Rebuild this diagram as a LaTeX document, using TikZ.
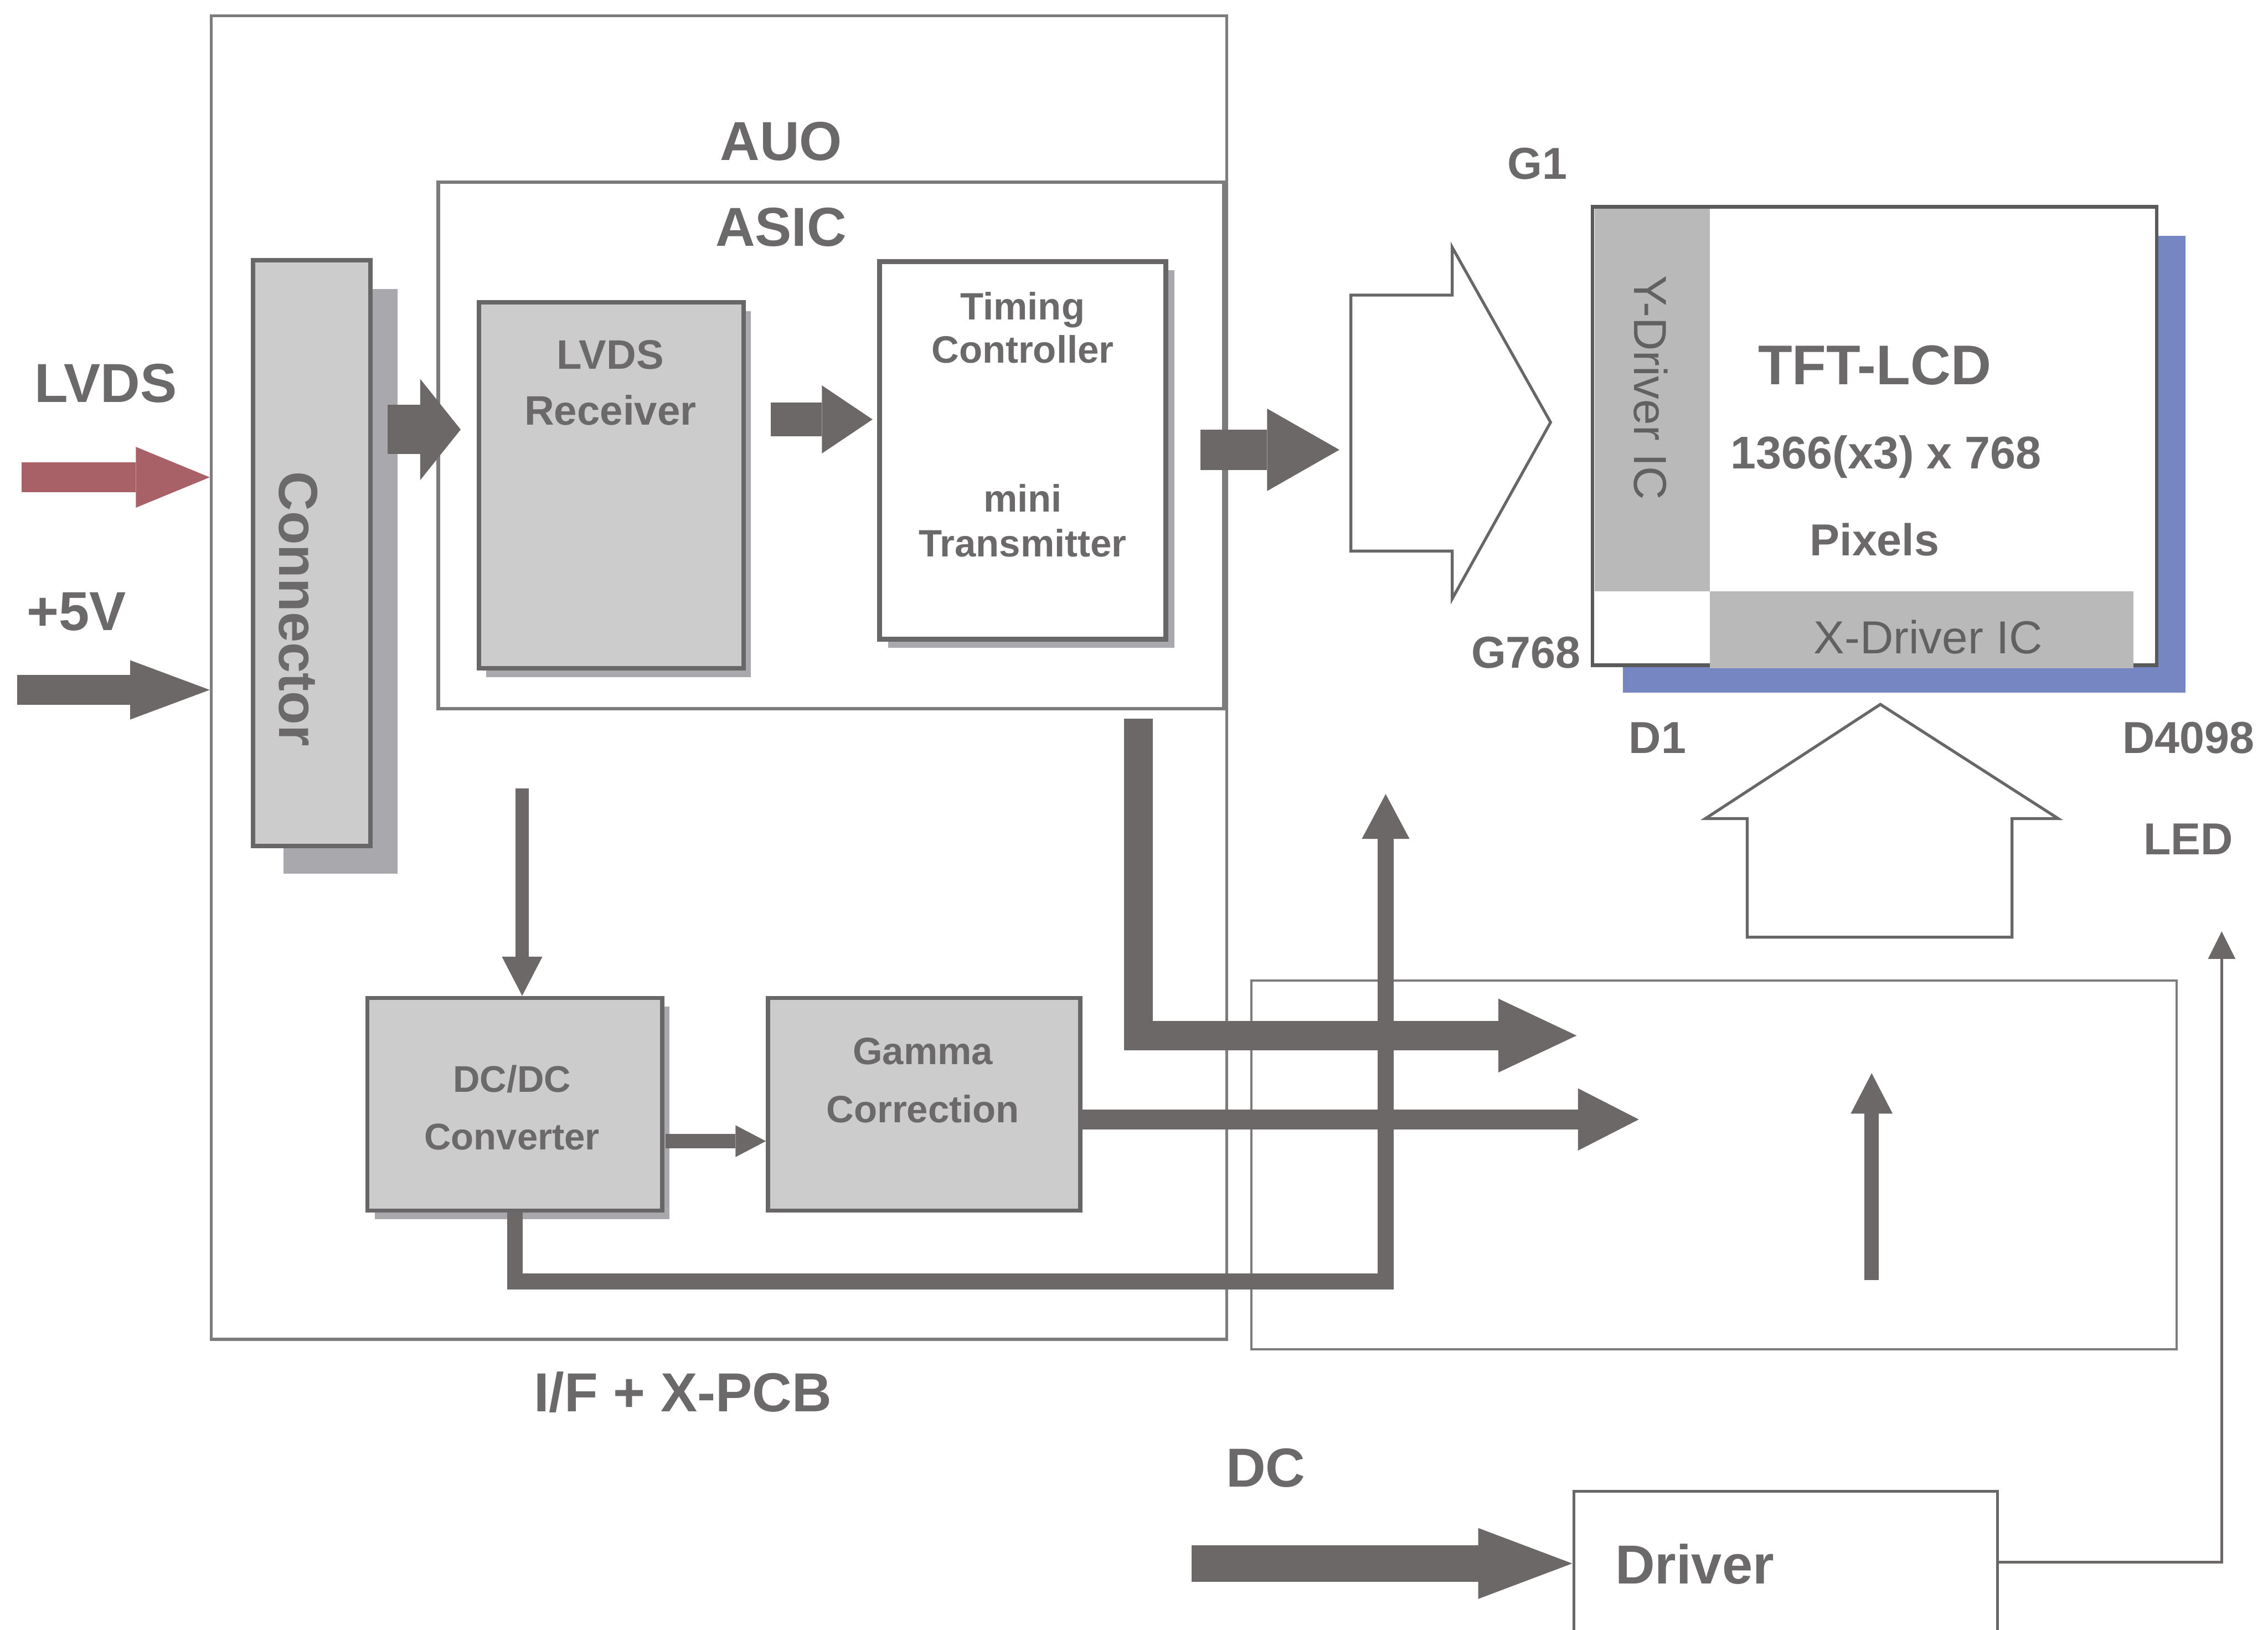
\documentclass[tikz,border=0pt]{standalone}
\usepackage{fontspec}
\setmainfont{Liberation Sans}
\usetikzlibrary{arrows.meta,fit}
\definecolor{txt}{RGB}{108,105,106}
\definecolor{arr}{RGB}{108,104,104}
\definecolor{frm}{RGB}{125,123,124}
\definecolor{bl}{RGB}{105,102,103}
\definecolor{pbl}{RGB}{90,90,90}
\definecolor{gfill}{RGB}{204,204,204}
\definecolor{shd}{RGB}{169,169,173}
\definecolor{drv}{RGB}{185,185,185}
\definecolor{lcdblue}{RGB}{118,134,194}
\definecolor{lvdsred}{RGB}{168,97,103}
\begin{document}
\begin{tikzpicture}[x=0.01cm,y=-0.01cm,
  frame/.style={draw=frm, line width=0.02cm, inner sep=0pt},
  gbox/.style={draw=bl, fill=gfill, line width=0.03cm, inner sep=0pt},
  wbox/.style={draw=bl, fill=white, line width=0.03cm, inner sep=0pt},
  lbl/.style={text=txt, inner sep=0pt, anchor=base},
  fA/.style={lbl, font=\fontsize{10.8pt}{13pt}\selectfont\bfseries},
  fT/.style={lbl, font=\fontsize{11pt}{13pt}\selectfont\bfseries},
  fB/.style={lbl, font=\fontsize{8.8pt}{10pt}\selectfont\bfseries},
  fN/.style={lbl, font=\fontsize{9pt}{10pt}\selectfont\bfseries},
  fC/.style={lbl, font=\fontsize{8.1pt}{10pt}\selectfont\bfseries},
  fD/.style={lbl, font=\fontsize{7.5pt}{9pt}\selectfont\bfseries},
  fE/.style={lbl, font=\fontsize{7.3pt}{9pt}\selectfont\bfseries},
  fR/.style={lbl, text=black!62, font=\fontsize{9.1pt}{11pt}\selectfont},
  thk/.style n args={3}{draw=arr, line width=#1, -{Triangle[length=#2, width=#3, line width=0pt]}},
  hollow/.style={draw=bl, fill=white, line width=0.02cm, line join=miter},
]
\clip (0,0) rectangle (1568,1127);
\fill[white] (0,0) rectangle (1568,1127);

% frames
\node[frame, fit={(146,11) (848,926)}] (auo) {};
\node[frame, line width=0.025cm, fit={(303,126) (846,490)}] (asic) {};
\node[frame, line width=0.015cm, fit={(865,678) (1505,933)}] (pcb) {};

% connector
\fill[shd] (196,200) rectangle (275,604);
\node[gbox, fit={(175,180) (256,585)}] (conn) {};
\node[fA, rotate=-90] (tconn) at (193,421) {Connector};

% LVDS receiver
\fill[shd] (336,215) rectangle (519,468);
\node[gbox, fit={(331,209) (514,462)}] (rec) {};
\node[fC] (trec1) at (422,255) {LVDS};
\node[fC] (trec2) at (422,294) {Receiver};

% timing controller
\fill[shd] (614,187) rectangle (812,448);
\node[wbox, line width=0.035cm, fit={(608,181) (806,442)}] (tcon) {};
\node[fD] (ttc1) at (707,221) {Timing};
\node[fD] (ttc2) at (707,251) {Controller};
\node[fD] (ttc3) at (707,354) {mini};
\node[fD] (ttc4) at (707,385) {Transmitter};

% DC/DC and gamma
\fill[shd] (259,696) rectangle (463,843);
\node[gbox, fit={(254,690) (458,837)}] (dcdc) {};
\node[fE] (tdc1) at (354,755) {DC/DC};
\node[fE] (tdc2) at (354,795) {Converter};
\node[gbox, fit={(531,690) (747,837)}] (gamma) {};
\node[fD] (tga1) at (638,736) {Gamma};
\node[fD] (tga2) at (638,776) {Correction};

% panel
\fill[lcdblue] (1122,163) rectangle (1511,479);
\node[draw=pbl, fill=white, line width=0.025cm, inner sep=0pt, fit={(1101,143) (1491,460)}] (panel) {};
\node[fill=drv, inner sep=0pt, fit={(1102.5,144.5) (1182,409)}] (ydrv) {};
\node[fill=drv, inner sep=0pt, fit={(1182,409) (1475,462)}] (xdrv) {};
\node[fR, rotate=-90] (tydrv) at (1130,268) {Y-Driver IC};
\node[fR] (txdrv) at (1333,452) {X-Driver IC};
\node[fT] (ttft) at (1296,266) {TFT-LCD};
\node[fN] (tres) at (1304,324) {1366(x3) x 768};
\node[fB] (tpix) at (1296,384) {Pixels};

% hollow arrows
\draw[hollow] (934,204) -- (1004,204) -- (1004,171) -- (1072,292) -- (1004,414) -- (1004,381) -- (934,381) -- cycle;
\draw[hollow] (1208,648) -- (1208,566) -- (1179,566) -- (1300,487) -- (1423,566) -- (1391,566) -- (1391,648) -- cycle;

% driver
\node[draw=bl, fill=white, line width=0.02cm, inner sep=0pt, fit={(1088,1031) (1381,1140)}] (driver) {};
\node[fA, anchor=base west] (tdrv) at (1116,1095) {Driver};

% connectors
\coordinate (lvdsin) at (15,330);
\draw[thk={0.21cm}{0.51cm}{0.42cm}, draw=lvdsred] (lvdsin) -- (lvdsin -| auo.west);
\coordinate (v5in) at (12,477);
\draw[thk={0.21cm}{0.55cm}{0.41cm}] (v5in) -- (v5in -| auo.west);
\coordinate (c1) at (268,297);
\draw[thk={0.34cm}{0.28cm}{0.70cm}, shorten >=0.11cm] (c1) -- (c1 -| rec.west);
\coordinate (c2) at (533,290);
\draw[thk={0.23cm}{0.35cm}{0.47cm}, shorten >=0.03cm] (c2) -- (c2 -| tcon.west);
\coordinate (c3) at (830,311);
\coordinate (c3e) at (926,311);
\draw[thk={0.28cm}{0.50cm}{0.57cm}] (c3) -- (c3e);
\coordinate (d1) at (787,497);
\coordinate (d1e) at (1090,716);
\draw[thk={0.20cm}{0.54cm}{0.51cm}] (d1) |- (d1e);
\coordinate (g1) at (747,774);
\coordinate (g1e) at (1133,774);
\draw[thk={0.14cm}{0.42cm}{0.43cm}] (g1) -- (g1e);
\coordinate (p1) at (958,886);
\coordinate (p2) at (958,549);
\draw[thk={0.11cm}{0.31cm}{0.33cm}] (dcdc.south) |- (p1) -- (p2);
\coordinate (e1) at (361,545);
\draw[thk={0.09cm}{0.27cm}{0.28cm}] (e1) -- (e1 |- dcdc.north);
\coordinate (f1) at (460,789);
\draw[thk={0.10cm}{0.21cm}{0.22cm}] (f1) -- (f1 -| gamma.west);
\coordinate (u1) at (1294,885);
\coordinate (u1e) at (1294,742);
\draw[thk={0.10cm}{0.28cm}{0.29cm}] (u1) -- (u1e);
\coordinate (dcin) at (824,1081);
\draw[thk={0.25cm}{0.65cm}{0.49cm}] (dcin) -- (dcin -| driver.west);
\coordinate (h0) at (1381,1080);
\coordinate (h1) at (1536,644);
\draw[draw=arr, line width=0.018cm, -{Triangle[length=0.19cm, width=0.19cm, line width=0pt]}] (h0) -| (h1);

% labels
\node[fA] (tauo) at (540,111) {AUO};
\node[fA] (tasic) at (540,170) {ASIC};
\node[fA] (tlvds) at (73,278) {LVDS};
\node[fA] (t5v) at (53,436) {+5V};
\node[fA] (tifx) at (472,976) {I/F + X-PCB};
\node[fA] (tdc) at (875,1028) {DC};
\node[fB] (tg1) at (1063,124) {G1};
\node[fB] (tg768) at (1055,462) {G768};
\node[fB] (td1) at (1146,521) {D1};
\node[fB] (td4098) at (1513,521) {D4098};
\node[fB] (tled) at (1513,591) {LED};
\end{tikzpicture}
\end{document}
